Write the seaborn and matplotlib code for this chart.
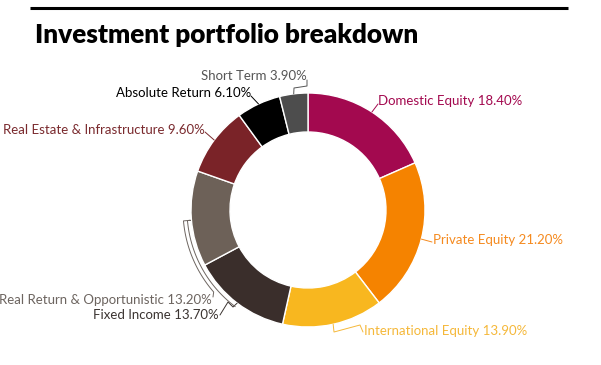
import numpy as np
import matplotlib

matplotlib.use("Agg", force=True)
import matplotlib.pyplot as plt
import seaborn as sns

# data, clockwise from 12 o'clock
CATEGORIES = [
    "Domestic Equity",
    "Private Equity",
    "International Equity",
    "Fixed Income",
    "Real Return & Opportunistic",
    "Real Estate & Infrastructure",
    "Absolute Return",
    "Short Term",
]
SHARES = [18.4, 21.2, 13.9, 13.7, 13.2, 9.6, 6.1, 3.9]

WEDGE_COLORS = ["#a3094f", "#f58300", "#f8b71f", "#3a2e2b", "#6d6158", "#7a2328", "#000000", "#4d4d4d"]
TEXT_COLORS = ["#a3094f", "#f58a1f", "#f5b83a", "#3b3431", "#6d6560", "#7a2a2e", "#000000", "#555555"]

W, H = 601, 365
CX, CY, R_OUT, R_IN = 308, 210, 117, 78

# label layout in pixel coords: text anchor, alignment, leader elbows (from wedge outwards)
LABEL_LAYOUT = {
    "Domestic Equity": dict(xy=(378, 101), ha="left", elbows=[(378, 104)]),
    "Private Equity": dict(xy=(433, 240), ha="left", elbows=[(432, 242)]),
    "International Equity": dict(xy=(364, 331), ha="left", elbows=[(334, 332), (360, 325), (363, 332)]),
    "Fixed Income": dict(xy=(219, 315), ha="right", elbows=[(233, 307), (228, 302), (220, 315)]),
    "Real Return & Opportunistic": dict(xy=(212, 300), ha="right", elbows="bracket"),
    "Real Estate & Infrastructure": dict(xy=(205, 130), ha="right", elbows=[(205, 132)]),
    "Absolute Return": dict(xy=(251, 93), ha="right", elbows=[(251, 96)]),
    "Short Term": dict(xy=(307, 76), ha="right", elbows=[(294, 88), (307, 86), (307, 80)]),
}


def px(x, y):
    return x, H - y


def polar(r, deg):
    a = np.deg2rad(deg)
    return CX + r * np.sin(a), CY - r * np.cos(a)


def bracket_path(text_end):
    # outer arc up from the label, tick into the ring, inner arc back down
    pts = [text_end]
    pts += [polar(125, d) for d in np.linspace(229, 265, 30)]
    pts += [polar(118, 265)]
    pts += [polar(121, d) for d in np.linspace(265, 217, 40)]
    return pts


def main() -> None:
    sns.set_theme(style="white")
    plt.rcParams["font.family"] = ["Lato", "DejaVu Sans"]

    fig = plt.figure(figsize=(W / 100, H / 100), dpi=100)
    ax = fig.add_axes([0, 0, 1, 1])

    ax.pie(
        SHARES,
        colors=WEDGE_COLORS,
        startangle=90,
        counterclock=False,
        center=px(CX, CY),
        radius=R_OUT,
        wedgeprops=dict(width=R_OUT - R_IN, edgecolor="white", linewidth=1),
        frame=True,
    )
    ax.set_xlim(0, W)
    ax.set_ylim(0, H)
    ax.set_axis_off()

    # top rule and title
    ax.plot([30, 568], [H - 8, H - 8], color="black", linewidth=2.2, solid_capstyle="butt")
    ax.text(35, H - 43, "Investment portfolio breakdown", fontsize=18.8, fontweight="heavy",
            color="black", ha="left", va="baseline")

    cum = np.cumsum([0] + SHARES)
    for i, name in enumerate(CATEGORIES):
        mid = (cum[i] + cum[i + 1]) / 2 * 3.6
        anchor = polar(R_OUT, mid)
        lay = LABEL_LAYOUT[name]
        color = TEXT_COLORS[i]
        if lay["elbows"] == "bracket":
            pts = bracket_path((lay["xy"][0] + 1, lay["xy"][1] - 3))
        else:
            pts = [anchor] + lay["elbows"]
        xs, ys = zip(*[px(x, y) for x, y in pts])
        ax.plot(xs, ys, color=color, linewidth=0.7)
        tx, ty = px(*lay["xy"])
        ax.text(tx, ty, f"{name} {SHARES[i]:.2f}%", fontsize=9.5,
                color=color, ha=lay["ha"], va="center")

    fig.savefig("out.png", dpi=100, facecolor="white")
    plt.close(fig)


if __name__ == "__main__":
    main()
